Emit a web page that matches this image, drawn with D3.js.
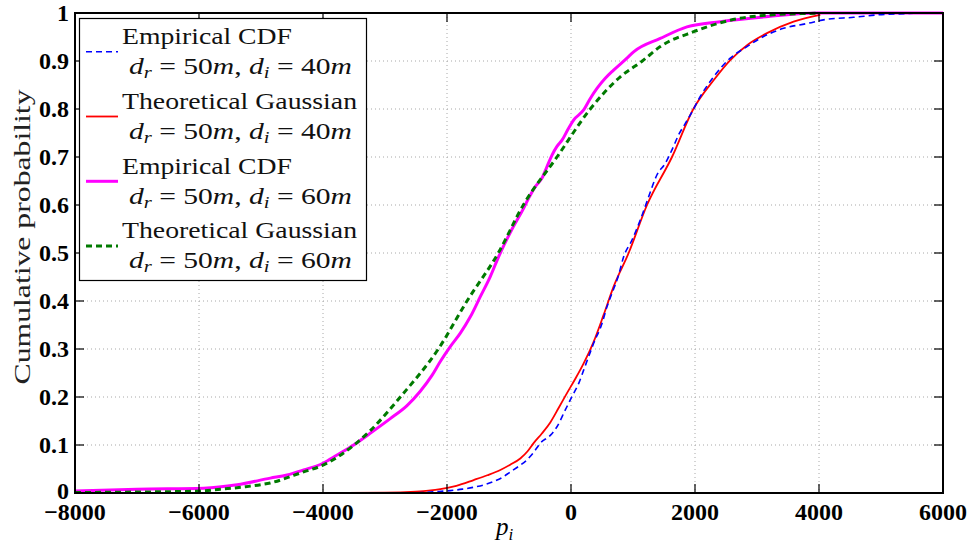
<!DOCTYPE html>
<html>
<head>
<meta charset="utf-8">
<script src="https://cdn.jsdelivr.net/npm/d3@7"></script>
<style>
  body { margin: 0; background: #fff; }
  svg { display: block; }
  .tick-label { font-family: "Liberation Serif", "Times New Roman", serif; font-weight: bold; font-size: 24px; fill: #000; }
  .leg-text { font-family: "Liberation Serif", "Times New Roman", serif; font-size: 23px; fill: #111; }
  .grid line { stroke: #a8a8a8; stroke-width: 1; stroke-dasharray: 1,3; }
</style>
</head>
<body>
<svg id="chart" width="974" height="547"></svg>
<script>
/* ===== Data ===== */

const xTicks = [-8000, -6000, -4000, -2000, 0, 2000, 4000, 6000];
const yTicks = [0, 0.1, 0.2, 0.3, 0.4, 0.5, 0.6, 0.7, 0.8, 0.9, 1];

// Empirical CDF, d_r = 50m, d_i = 40m (blue dashed)
const emp40X = [-2800, -2400, -2150, -1947, -1750, -1570, -1400, -1248, -1100, -979, -850, -710, -600, -495, -334, -226, -92, 16, 123, 204, 284, 365, 500, 580, 661, 768, 849, 984, 1118, 1252, 1387, 1521, 1629, 1735, 1844, 1952, 2085, 2300, 2569, 2838, 3106, 3429, 3806, 4129, 4558, 4935, 5526, 5600];
const emp40Y = [0, 0.001, 0.003, 0.005, 0.008, 0.012, 0.017, 0.024, 0.033, 0.044, 0.055, 0.069, 0.085, 0.104, 0.12, 0.138, 0.173, 0.201, 0.228, 0.256, 0.284, 0.312, 0.353, 0.388, 0.416, 0.454, 0.492, 0.527, 0.569, 0.617, 0.663, 0.687, 0.715, 0.746, 0.770, 0.794, 0.826, 0.867, 0.906, 0.930, 0.951, 0.968, 0.978, 0.987, 0.991, 0.996, 0.9995, 1];

// Theoretical Gaussian, d_r = 50m, d_i = 40m (red solid)
const gau40X = [-5000, -4000, -3000, -2500, -2300, -2108, -1850, -1570, -1350, -1140, -980, -818, -700, -603, -470, -334, -200, -65, 70, 204, 365, 526, 687, 930, 1226, 1629, 1973, 2300, 2569, 2850, 3161, 3590, 4021];
const gau40Y = [0, 0, 0.0005, 0.003, 0.005, 0.008, 0.015, 0.027, 0.037, 0.048, 0.059, 0.072, 0.087, 0.104, 0.124, 0.147, 0.177, 0.208, 0.238, 0.270, 0.315, 0.371, 0.430, 0.5, 0.6, 0.7, 0.8, 0.86, 0.902, 0.934, 0.958, 0.982, 0.996];

// Empirical CDF, d_r = 50m, d_i = 60m (magenta solid)
const emp60X = [-8000, -7000, -5925, -5387, -4850, -4580, -4313, -4000, -3774, -3506, -3200, -2915, -2645, -2431, -2242, -2108, -1947, -1785, -1624, -1463, -1302, -1168, -950, -765, -684, -576, -468, -387, -306, -226, -145, -39, 42, 204, 311, 419, 553, 687, 903, 1010, 1440, 1870, 2408, 3215, 3970, 6000];
const emp60Y = [0.004, 0.008, 0.010, 0.017, 0.031, 0.0375, 0.048, 0.062, 0.079, 0.1, 0.128, 0.155, 0.182, 0.212, 0.245, 0.274, 0.305, 0.333, 0.367, 0.409, 0.451, 0.492, 0.55, 0.593, 0.614, 0.638, 0.656, 0.680, 0.704, 0.722, 0.735, 0.760, 0.777, 0.798, 0.822, 0.843, 0.864, 0.881, 0.906, 0.919, 0.947, 0.971, 0.982, 0.993, 1, 1];

// Theoretical Gaussian, d_r = 50m, d_i = 60m (green dashed)
const gau60X = [-8000, -7000, -6000, -5655, -5250, -4850, -4313, -4000, -3500, -3237, -2753, -2140, -1677, -1173, -769, -226, 311, 795, 1150, 1440, 1978, 2569, 3216, 3968];
const gau60Y = [0.001, 0.002, 0.004, 0.008, 0.013, 0.021, 0.044, 0.058, 0.1, 0.13, 0.2, 0.3, 0.4, 0.5, 0.6, 0.7, 0.8, 0.867, 0.9, 0.93, 0.961, 0.985, 0.996, 0.9995];

const seriesNames = ["Empirical CDF", "Theoretical Gaussian", "Empirical CDF", "Theoretical Gaussian"];
const seriesDi = ["40", "40", "60", "60"];

/* ===== Layout ===== */

const margin = { top: 13, left: 75 };
const width = 868;
const height = 480;

const svg = d3.select("#chart");
const g = svg.append("g").attr("transform", `translate(${margin.left},${margin.top})`);

const x = d3.scaleLinear().domain([-8000, 6000]).range([0, width]);
const y = d3.scaleLinear().domain([0, 1]).range([height, 0]);

/* ===== Grid ===== */

const grid = g.append("g").attr("class", "grid");
grid.selectAll(".vx")
  .data(xTicks.slice(1, -1))
  .enter().append("line")
  .attr("x1", d => x(d)).attr("x2", d => x(d))
  .attr("y1", 0).attr("y2", height);
grid.selectAll(".hy")
  .data(yTicks.slice(1, -1))
  .enter().append("line")
  .attr("x1", 0).attr("x2", width)
  .attr("y1", d => y(d)).attr("y2", d => y(d));

/* ===== Series ===== */

const series = [
  { xs: emp40X, ys: emp40Y, color: "#0000ff", w: 1.6, dash: "6,4" },
  { xs: gau40X, ys: gau40Y, color: "#ff0000", w: 1.8, dash: null },
  { xs: emp60X, ys: emp60Y, color: "#ff00ff", w: 3, dash: null },
  { xs: gau60X, ys: gau60Y, color: "#007a00", w: 3, dash: "6,4" }
];

const line = d3.line()
  .x(d => x(d[0]))
  .y(d => y(d[1]))
  .curve(d3.curveMonotoneX);

// draw order: magenta, green, red, blue
[2, 3, 1, 0].forEach(i => {
  const s = series[i];
  g.append("path")
    .datum(d3.zip(s.xs, s.ys))
    .attr("fill", "none")
    .attr("stroke", s.color)
    .attr("stroke-width", s.w)
    .attr("stroke-dasharray", s.dash)
    .attr("d", line);
});

/* ===== Axes box + ticks ===== */

const tickLen = 9;
const ax = g.append("g").attr("stroke", "#000").attr("stroke-width", 1.2);
xTicks.forEach(t => {
  ax.append("line").attr("x1", x(t)).attr("x2", x(t)).attr("y1", height).attr("y2", height - tickLen);
  ax.append("line").attr("x1", x(t)).attr("x2", x(t)).attr("y1", 0).attr("y2", tickLen);
});
yTicks.forEach(t => {
  ax.append("line").attr("x1", 0).attr("x2", tickLen).attr("y1", y(t)).attr("y2", y(t));
  ax.append("line").attr("x1", width).attr("x2", width - tickLen).attr("y1", y(t)).attr("y2", y(t));
});
g.append("rect")
  .attr("width", width).attr("height", height)
  .attr("fill", "none").attr("stroke", "#000").attr("stroke-width", 2);

g.selectAll(".xl")
  .data(xTicks)
  .enter().append("text")
  .attr("class", "tick-label")
  .attr("x", d => x(d))
  .attr("y", height + 27)
  .attr("text-anchor", "middle")
  .attr("font-size", 25)
  .text(d => d < 0 ? "\u2212" + Math.abs(d) : d);

g.selectAll(".yl")
  .data(yTicks)
  .enter().append("text")
  .attr("class", "tick-label")
  .attr("x", -6)
  .attr("y", d => y(d) + (d === 0 ? 6 : 8))
  .attr("text-anchor", "end")
  .text(d => d);

/* ===== Axis titles ===== */

const xt = svg.append("text")
  .attr("x", 496).attr("y", 535)
  .attr("font-family", "Liberation Serif, serif")
  .attr("font-size", 25);
xt.append("tspan").attr("font-style", "italic").text("p");
xt.append("tspan").attr("font-style", "italic").attr("font-size", 17).attr("dy", 5).text("i");

svg.append("text")
  .attr("transform", "translate(30,237) rotate(-90)")
  .attr("text-anchor", "middle")
  .attr("font-family", "Liberation Serif, serif")
  .attr("font-size", 23)
  .attr("textLength", 295)
  .attr("lengthAdjust", "spacingAndGlyphs")
  .attr("fill", "#222")
  .text("Cumulative probability");

/* ===== Legend ===== */

const legend = svg.append("g");
legend.append("rect")
  .attr("x", 79.5).attr("y", 18.5)
  .attr("width", 287).attr("height", 262)
  .attr("fill", "#fff").attr("stroke", "#000").attr("stroke-width", 1.2);

const step = 64.8;
series.forEach((s, i) => {
  const yy = 51.7 + i * step;
  legend.append("line")
    .attr("x1", 86).attr("x2", 118)
    .attr("y1", yy).attr("y2", yy)
    .attr("stroke", s.color)
    .attr("stroke-width", s.w)
    .attr("stroke-dasharray", s.dash);

  legend.append("text")
    .attr("class", "leg-text")
    .attr("x", 122).attr("y", 44 + i * step)
    .attr("textLength", seriesNames[i] === "Empirical CDF" ? 170 : 235)
    .attr("lengthAdjust", "spacingAndGlyphs")
    .text(seriesNames[i]);

  const t = legend.append("text")
    .attr("class", "leg-text")
    .attr("x", 129).attr("y", 74 + i * step)
    .attr("textLength", 223)
    .attr("lengthAdjust", "spacingAndGlyphs");
  t.append("tspan").attr("font-style", "italic").text("d");
  t.append("tspan").attr("font-style", "italic").attr("font-size", 16).attr("dy", 4).text("r");
  t.append("tspan").attr("dy", -4).text(" = 50");
  t.append("tspan").attr("font-style", "italic").text("m");
  t.append("tspan").text(", ");
  t.append("tspan").attr("font-style", "italic").text("d");
  t.append("tspan").attr("font-style", "italic").attr("font-size", 16).attr("dy", 4).text("i");
  t.append("tspan").attr("dy", -4).text(" = " + seriesDi[i]);
  t.append("tspan").attr("font-style", "italic").text("m");
});
</script>
</body>
</html>
